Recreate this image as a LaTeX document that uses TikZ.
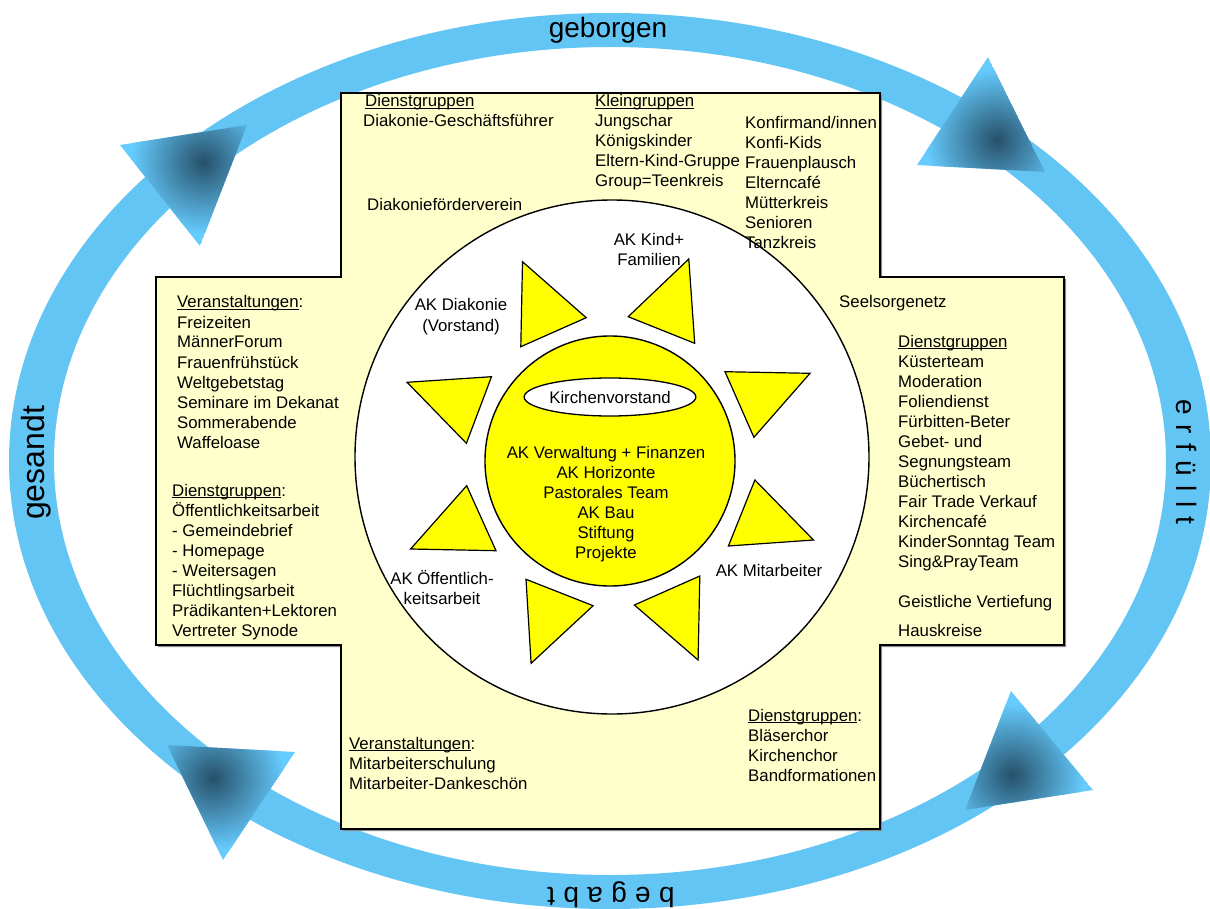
\documentclass[tikz,border=0pt]{standalone}
\usepackage{fontspec}
\setmainfont{Liberation Sans}
\usetikzlibrary{shapes.geometric}
\definecolor{ringblue}{RGB}{99,197,243}
\definecolor{arrlight}{RGB}{102,204,255}
\definecolor{arrdark}{RGB}{38,80,105}
\definecolor{crossfill}{RGB}{255,255,204}
\definecolor{sunyellow}{RGB}{255,255,0}
\newcommand{\ulx}[1]{\setbox0\hbox{#1}\rlap{\rule[-2.4pt]{\wd0}{1.3pt}}\box0}
\newcommand{\textcol}[4]{\foreach \t [count=\k from 0] in {#4} {\node[txt] (#1-\k) at (#2,{#3+20*\k}) {\t};}}
\newcommand{\ctextcol}[4]{\foreach \t [count=\k from 0] in {#4} {\node[ctxt] (#1-\k) at (#2,{#3+20*\k}) {\t};}}
\newcommand{\arrowtri}[4]{%
  \begin{scope}
    \clip #1 -- #2 -- #3 -- cycle;
    \fill[arrlight] #1 -- #2 -- #3 -- cycle;
    \shade[inner color=arrdark, outer color=arrlight] #4 circle (72);
  \end{scope}}
\tikzset{
  txt/.style={font=\fontsize{16.8}{20}\selectfont, inner sep=0pt, anchor=base west},
  ctxt/.style={font=\fontsize{16.8}{20}\selectfont, inner sep=0pt, anchor=base},
  ringtxt/.style={font=\fontsize{28}{30}\selectfont, inner sep=0pt},
  sunray/.style={fill=sunyellow, draw=black, line width=1.2pt, line join=miter},
  crossbox/.style={fill=crossfill, draw=black, line width=1.6pt},
}
\begin{document}
\begin{tikzpicture}[x=1pt,y=-1pt]
\useasboundingbox (0,0) rectangle (1210,909);
\fill[white] (0,0) rectangle (1210,909);

% ring
\fill[ringblue, even odd rule] (610,461) ellipse [x radius=601, y radius=448]
                                (610,461) ellipse [x radius=556, y radius=414];

% arrowheads
\arrowtri{(988,57)}{(917,165)}{(1045,172)}{(997,140)}
\arrowtri{(120,145)}{(247,125)}{(200,246)}{(203,162)}
\arrowtri{(1011,691)}{(1093,790)}{(965,810)}{(1012,775)}
\arrowtri{(167,745)}{(295,752)}{(223,860)}{(213,778)}

% ring words
\node[ringtxt] (w1) at (608,30) {geborgen};
\node[ringtxt, font=\fontsize{32}{34}\selectfont, rotate=90] (w2) at (36,463) {gesandt};
\node[ringtxt, rotate=-90] (w3) at (1186,462) {e\hspace{9.5pt}r\hspace{9.5pt}f\hspace{9.5pt}ü\hspace{9.5pt}l\hspace{9.5pt}l\hspace{9.5pt}t};
\node[ringtxt, rotate=180] (w4) at (611,895) {b\hspace{8.3pt}e\hspace{8.3pt}g\hspace{8.3pt}a\hspace{8.3pt}b\hspace{8.3pt}t};

% cross shadow and cross
\fill[black!45] (343,95) -- (882,95) -- (882,279) -- (1066,279) -- (1066,647) -- (882,647) -- (882,831)
  -- (343,831) -- (343,647) -- (158,647) -- (158,279) -- (343,279) -- cycle;
\draw[crossbox] (341,93) -- (880,93) -- (880,277) -- (1064,277) -- (1064,645) -- (880,645) -- (880,829)
  -- (341,829) -- (341,645) -- (156,645) -- (156,277) -- (341,277) -- cycle;

% big white circle
\node[circle, draw=black, fill=white, line width=1.4pt, minimum size=514, inner sep=0pt] (outer) at (612,457) {};

% sun rays
\draw[sunray] (522.5,261.7) -- (586.2,317.7) -- (520.8,346.7) -- cycle;
\draw[sunray] (688.8,259) -- (694.7,343.3) -- (628.2,316.7) -- cycle;
\draw[sunray] (725,371.7) -- (810,373.3) -- (753.9,437.3) -- cycle;
\draw[sunray] (754.9,480) -- (813.5,540) -- (728.4,546) -- cycle;
\draw[sunray] (699.8,576) -- (698.1,660) -- (634.4,605) -- cycle;
\draw[sunray] (526,579.3) -- (593.1,605.7) -- (531.1,663.3) -- cycle;
\draw[sunray] (466.7,485.7) -- (496,550.7) -- (410.6,549) -- cycle;
\draw[sunray] (407.1,382.3) -- (491.5,376.7) -- (466.4,443.3) -- cycle;

% sun
\node[circle, draw=black, fill=sunyellow, line width=1.4pt, minimum size=250, inner sep=0pt] (sun) at (610,461) {};
\node[ellipse, draw=black, fill=white, line width=1.3pt, minimum width=152, minimum height=38, inner sep=0pt,
      font=\fontsize{16.8}{20}\selectfont] (kv) at (610,397) {Kirchenvorstand};
\ctextcol{sunt}{606}{458}{AK Verwaltung + Finanzen, AK Horizonte, Pastorales Team, AK Bau, Stiftung, Projekte}

% circle labels
\ctextcol{akk}{649}{246}{AK Kind+, Familien}
\ctextcol{akd}{461}{311}{AK Diakonie, (Vorstand)}
\ctextcol{akm}{769}{576}{AK Mitarbeiter}
\ctextcol{ako}{442}{584}{AK Öffentlich-, keitsarbeit}

% top arm
\node[txt] (tdg) at (365,107) {\ulx{Dienstgruppen}};
\node[txt] (tdgf) at (363,127) {Diakonie-Geschäftsführer};
\node[txt] (tdfv) at (367,211) {Diakonieförderverein};
\textcol{kg}{595}{107}{\ulx{Kleingruppen}, Jungschar, Königskinder, Eltern-Kind-Gruppe, Group=Teenkreis}
\textcol{kf}{745}{129}{Konfirmand/innen, Konfi-Kids, Frauenplausch, Elterncafé, Mütterkreis, Senioren, Tanzkreis}

% left arm
\textcol{lv}{177}{308}{\ulx{Veranstaltungen}:, Freizeiten, MännerForum, Frauenfrühstück, Weltgebetstag, Seminare im Dekanat, Sommerabende, Waffeloase}
\textcol{ld}{172}{496}{\ulx{Dienstgruppen}:, Öffentlichkeitsarbeit, - Gemeindebrief, - Homepage, - Weitersagen, Flüchtlingsarbeit, Prädikanten+Lektoren, Vertreter Synode}

% right arm
\node[txt] (rsn) at (839,308) {Seelsorgenetz};
\textcol{rd}{898}{347}{\ulx{Dienstgruppen}, Küsterteam, Moderation, Foliendienst, Fürbitten-Beter, Gebet- und, Segnungsteam, Büchertisch, Fair Trade Verkauf, Kirchencafé, KinderSonntag Team, Sing\&PrayTeam}
\node[txt] (rgv) at (898,607) {Geistliche Vertiefung};
\node[txt] (rhk) at (898,636) {Hauskreise};

% bottom arm
\textcol{bv}{349}{749}{\ulx{Veranstaltungen}:, Mitarbeiterschulung, Mitarbeiter-Dankeschön}
\textcol{bd}{748}{721}{\ulx{Dienstgruppen}:, Bläserchor, Kirchenchor, Bandformationen}
\end{tikzpicture}
\end{document}
